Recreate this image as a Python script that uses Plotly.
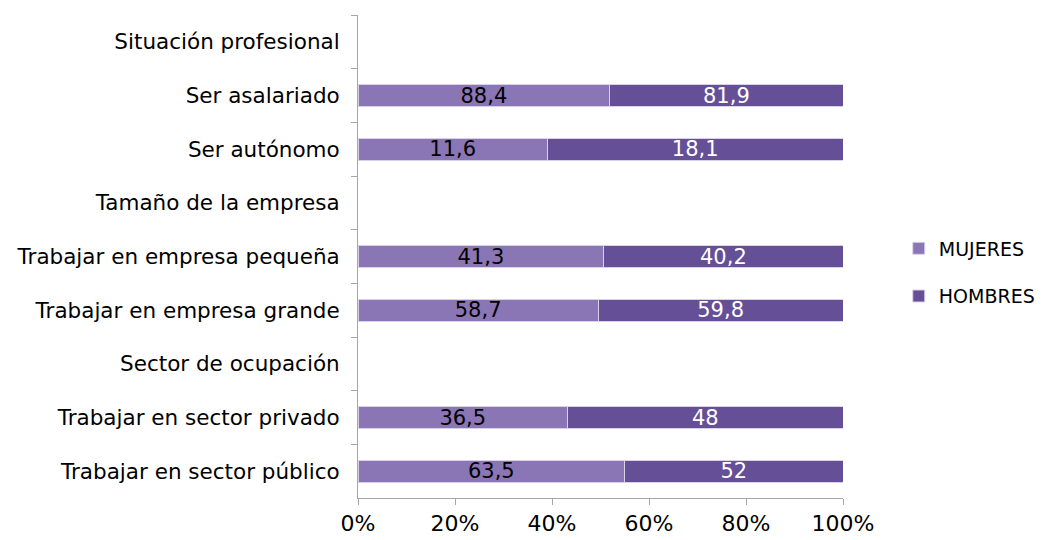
import plotly.graph_objects as go

categories = [
    "Situación profesional",
    "Ser asalariado",
    "Ser autónomo",
    "Tamaño de la empresa",
    "Trabajar en empresa pequeña",
    "Trabajar en empresa grande",
    "Sector de ocupación",
    "Trabajar en sector privado",
    "Trabajar en sector público",
]
mujeres = [None, 88.4, 11.6, None, 41.3, 58.7, None, 36.5, 63.5]
hombres = [None, 81.9, 18.1, None, 40.2, 59.8, None, 48, 52]
mujeres_lbl = ["" if v is None else f"{v:g}".replace(".", ",") for v in mujeres]
hombres_lbl = ["" if v is None else f"{v:g}".replace(".", ",") for v in hombres]

FONT = "DejaVu Sans"
fig = go.Figure()
fig.add_trace(go.Bar(
    y=categories, x=mujeres, name="MUJERES", orientation="h",
    marker=dict(color="#8B76B5", line=dict(color="#D9D2E6", width=1)),
    text=mujeres_lbl, texttemplate="%{text}", textposition="inside",
    insidetextanchor="middle", textangle=0, constraintext="none",
    textfont=dict(color="black", size=21, family=FONT),
    legendgroup="m", hoverinfo="skip",
))
fig.add_trace(go.Bar(
    y=categories, x=hombres, name="HOMBRES", orientation="h",
    marker=dict(color="#654F96", line=dict(color="#D9D2E6", width=1)),
    text=hombres_lbl, texttemplate="%{text}", textposition="inside",
    insidetextanchor="middle", textangle=0, constraintext="none",
    textfont=dict(color="white", size=21, family=FONT),
    legendgroup="h", hoverinfo="skip",
))

fig.update_layout(
    width=1047, height=540,
    barmode="stack", barnorm="percent", bargap=0.59,
    paper_bgcolor="white", plot_bgcolor="white",
    margin=dict(l=350, r=212, t=7, b=50, autoexpand=False),
    font=dict(family=FONT, size=21, color="black"),
    legend=dict(
        x=1.115, y=0.467, xanchor="left", yanchor="middle",
        traceorder="grouped", tracegroupgap=20, itemwidth=30,
        font=dict(size=19, family=FONT),
        bgcolor="rgba(0,0,0,0)",
    ),
    xaxis=dict(
        range=[0, 100], tickvals=[0, 20, 40, 60, 80, 100],
        ticktext=["0%", "20%", "40%", "60%", "80%", "100%"],
        showgrid=False, zeroline=False, automargin=False,
        showline=True, linecolor="#A6A6A6", linewidth=1,
        ticks="outside", tickcolor="#A6A6A6", ticklen=6,
        tickfont=dict(size=22, family=FONT),
    ),
    yaxis=dict(
        autorange="reversed", type="category", automargin=False,
        showgrid=False, showline=True, linecolor="#A6A6A6", linewidth=1,
        ticks="outside", tickcolor="#A6A6A6", ticklen=6, tickson="boundaries",
        tickfont=dict(size=21.5, family=FONT), ticklabelstandoff=13,
    ),
)

fig.write_html("out.html")
